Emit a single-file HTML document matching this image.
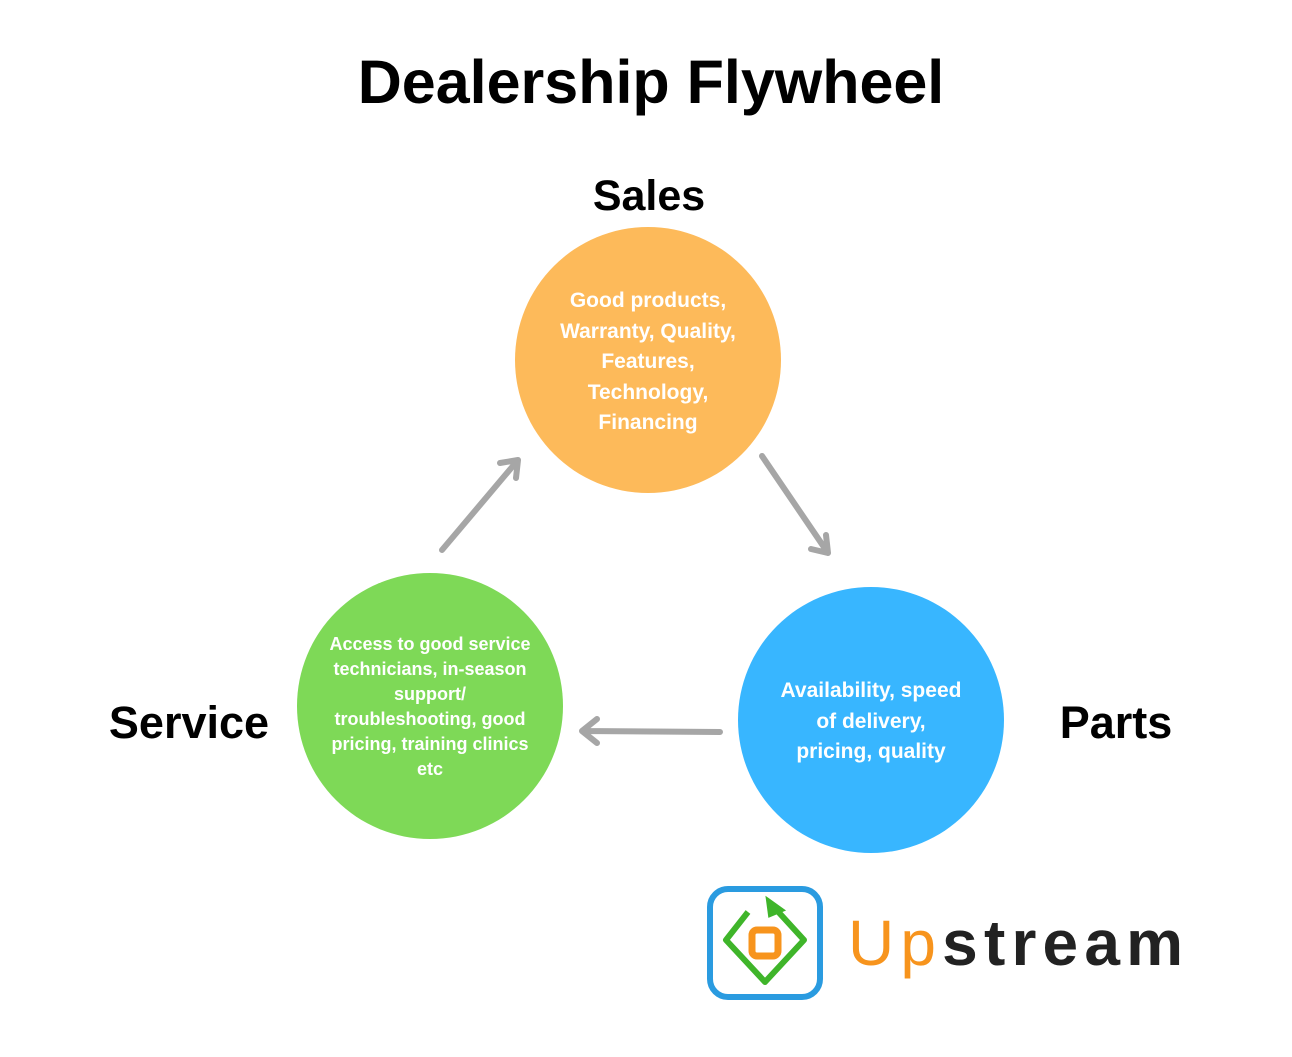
<!DOCTYPE html>
<html><head><meta charset="utf-8"><style>
body{margin:0;background:#fff}
text{font-family:"Liberation Sans",sans-serif;font-weight:bold}
</style></head><body>
<svg width="1292" height="1052" viewBox="0 0 1292 1052" xmlns="http://www.w3.org/2000/svg">
<text x="651" y="103" font-size="61" text-anchor="middle" fill="#000">Dealership Flywheel</text>
<text x="649" y="210" font-size="43" text-anchor="middle" fill="#000">Sales</text>
<text x="189" y="738" font-size="45" text-anchor="middle" fill="#000">Service</text>
<text x="1116" y="738" font-size="45" text-anchor="middle" fill="#000">Parts</text>
<circle cx="648" cy="360" r="133" fill="#FDBA5A"/>
<circle cx="430" cy="706" r="133" fill="#7ED957"/>
<circle cx="871" cy="720" r="133" fill="#38B6FF"/>
<g fill="#fff" font-size="21" text-anchor="middle">
<text x="648" y="307">Good products,</text>
<text x="648" y="338">Warranty, Quality,</text>
<text x="648" y="368">Features,</text>
<text x="648" y="399">Technology,</text>
<text x="648" y="429">Financing</text>
<text x="871" y="697">Availability, speed</text>
<text x="871" y="728">of delivery,</text>
<text x="871" y="758">pricing, quality</text>
</g>
<g fill="#fff" font-size="18" text-anchor="middle">
<text x="430" y="650">Access to good service</text>
<text x="430" y="675">technicians, in-season</text>
<text x="430" y="700">support/</text>
<text x="430" y="725">troubleshooting, good</text>
<text x="430" y="750">pricing, training clinics</text>
<text x="430" y="775">etc</text>
</g>
<g stroke="#a6a6a6" stroke-width="6" fill="none" stroke-linecap="round" stroke-linejoin="round">
<path d="M442 550 L518 460 M500 463 L518 460 L516 478"/>
<path d="M762 456 L828 553 M826 535 L828 553 L811 549"/>
<path d="M720 732 L582 731 M597 719 L582 731 L597 743"/>
</g>
<rect x="710" y="889" width="110" height="108" rx="18" fill="#fff" stroke="#2a9be0" stroke-width="6"/>
<path d="M748 912 L726 940 L765 982 L804 940 L772 905" fill="none" stroke="#3fb52a" stroke-width="6" stroke-linejoin="round"/>
<path d="M768 900 L782 910 L770 915 Z" fill="#3fb52a" stroke="#3fb52a" stroke-width="4"/>
<rect x="752" y="930" width="26" height="26" rx="5" fill="none" stroke="#f7941d" stroke-width="7"/>
<text x="848" y="965" font-size="64" fill="#222" textLength="335" lengthAdjust="spacing"><tspan fill="#f7941d" style="font-weight:normal">Up</tspan>stream</text>
</svg>
</body></html>
